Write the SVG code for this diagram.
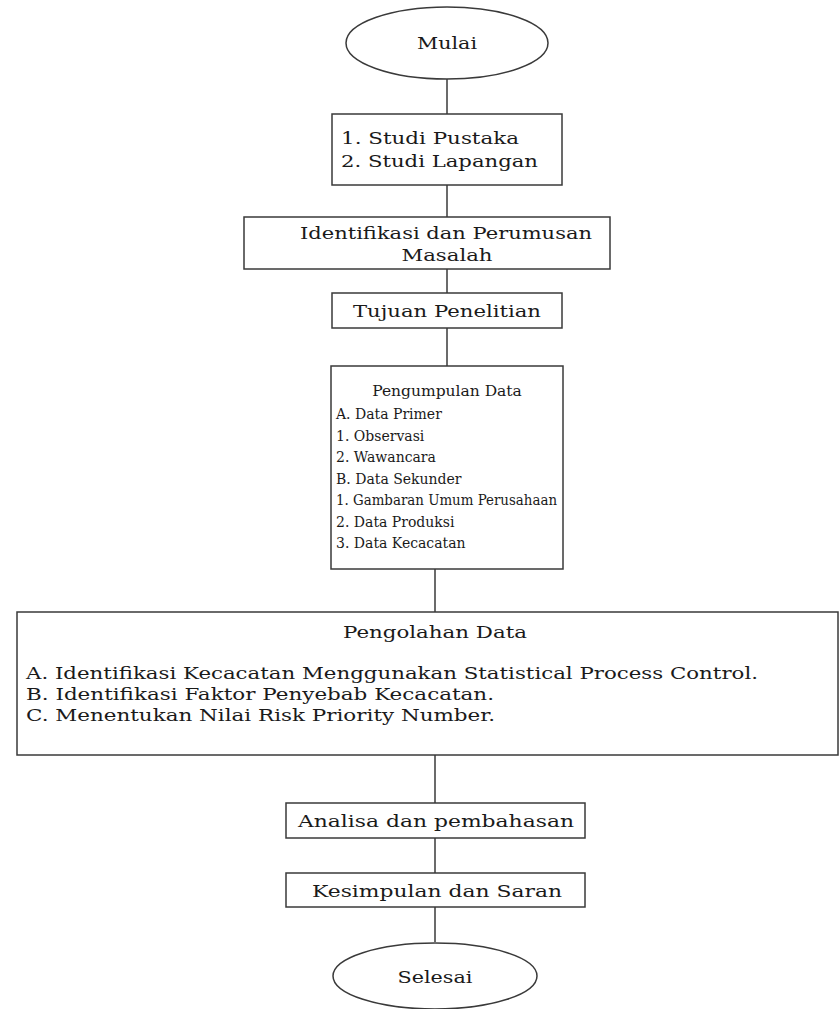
<svg xmlns="http://www.w3.org/2000/svg" width="839" height="1009" viewBox="0 0 839 1009">
<style>
.shape{fill:#fff;stroke:#3a3a3a;stroke-width:1.5}
.conn{stroke:#3a3a3a;stroke-width:1.5;fill:none}
.t{font-family:"DejaVu Serif","Liberation Serif",serif;font-size:17px;fill:#1a1a1a}
.s{font-family:"DejaVu Serif","Liberation Serif",serif;font-size:14px;fill:#1a1a1a}
.c{text-anchor:middle}
</style>
<rect width="839" height="1009" fill="#fff"/>
<g id="connectors">
<line class="conn" x1="447" y1="79" x2="447" y2="114"/>
<line class="conn" x1="447" y1="185" x2="447" y2="217"/>
<line class="conn" x1="447" y1="269" x2="447" y2="293"/>
<line class="conn" x1="447" y1="328" x2="447" y2="366"/>
<line class="conn" x1="435" y1="569" x2="435" y2="612"/>
<line class="conn" x1="435" y1="755" x2="435" y2="803"/>
<line class="conn" x1="435" y1="838" x2="435" y2="873"/>
<line class="conn" x1="435" y1="907" x2="435" y2="942"/>
</g>
<g id="mulai">
<ellipse class="shape" cx="447" cy="43" rx="101" ry="36"/>
<text class="t c" x="447" y="49" textLength="60" lengthAdjust="spacingAndGlyphs">Mulai</text>
</g>
<g id="studi">
<rect class="shape" x="332" y="114" width="230" height="71"/>
<text class="t" x="341" y="144" textLength="178" lengthAdjust="spacingAndGlyphs">1. Studi Pustaka</text>
<text class="t" x="341" y="167" textLength="197" lengthAdjust="spacingAndGlyphs">2. Studi Lapangan</text>
</g>
<g id="identifikasi">
<rect class="shape" x="244" y="217" width="366" height="52"/>
<text class="t c" x="446" y="239" textLength="292" lengthAdjust="spacingAndGlyphs">Identifikasi dan Perumusan</text>
<text class="t c" x="447" y="261" textLength="91" lengthAdjust="spacingAndGlyphs">Masalah</text>
</g>
<g id="tujuan">
<rect class="shape" x="332" y="293" width="230" height="35"/>
<text class="t c" x="447" y="317" textLength="188" lengthAdjust="spacingAndGlyphs">Tujuan Penelitian</text>
</g>
<g id="pengumpulan">
<rect class="shape" x="331" y="366" width="232" height="203"/>
<text class="s c" x="447" y="396" style="font-size:15.5px">Pengumpulan Data</text>
<text class="s" x="336" y="419">A. Data Primer</text>
<text class="s" x="336" y="441">1. Observasi</text>
<text class="s" x="336" y="462">2. Wawancara</text>
<text class="s" x="336" y="484">B. Data Sekunder</text>
<text class="s" x="336" y="505" textLength="221" lengthAdjust="spacingAndGlyphs">1. Gambaran Umum Perusahaan</text>
<text class="s" x="336" y="527">2. Data Produksi</text>
<text class="s" x="336" y="548">3. Data Kecacatan</text>
</g>
<g id="pengolahan">
<rect class="shape" x="17" y="612" width="821" height="143"/>
<text class="t c" x="435" y="638" textLength="184" lengthAdjust="spacingAndGlyphs">Pengolahan Data</text>
<text class="t" x="26" y="679" textLength="732" lengthAdjust="spacingAndGlyphs">A. Identifikasi Kecacatan Menggunakan Statistical Process Control.</text>
<text class="t" x="26" y="700" textLength="468" lengthAdjust="spacingAndGlyphs">B. Identifikasi Faktor Penyebab Kecacatan.</text>
<text class="t" x="26" y="721" textLength="469" lengthAdjust="spacingAndGlyphs">C. Menentukan Nilai Risk Priority Number.</text>
</g>
<g id="analisa">
<rect class="shape" x="286" y="803" width="299" height="35"/>
<text class="t c" x="436" y="827" textLength="276" lengthAdjust="spacingAndGlyphs">Analisa dan pembahasan</text>
</g>
<g id="kesimpulan">
<rect class="shape" x="286" y="873" width="299" height="34"/>
<text class="t c" x="437" y="897" textLength="250" lengthAdjust="spacingAndGlyphs">Kesimpulan dan Saran</text>
</g>
<g id="selesai">
<ellipse class="shape" cx="435" cy="976" rx="102" ry="33"/>
<text class="t c" x="435" y="983" textLength="75" lengthAdjust="spacingAndGlyphs">Selesai</text>
</g>
</svg>
